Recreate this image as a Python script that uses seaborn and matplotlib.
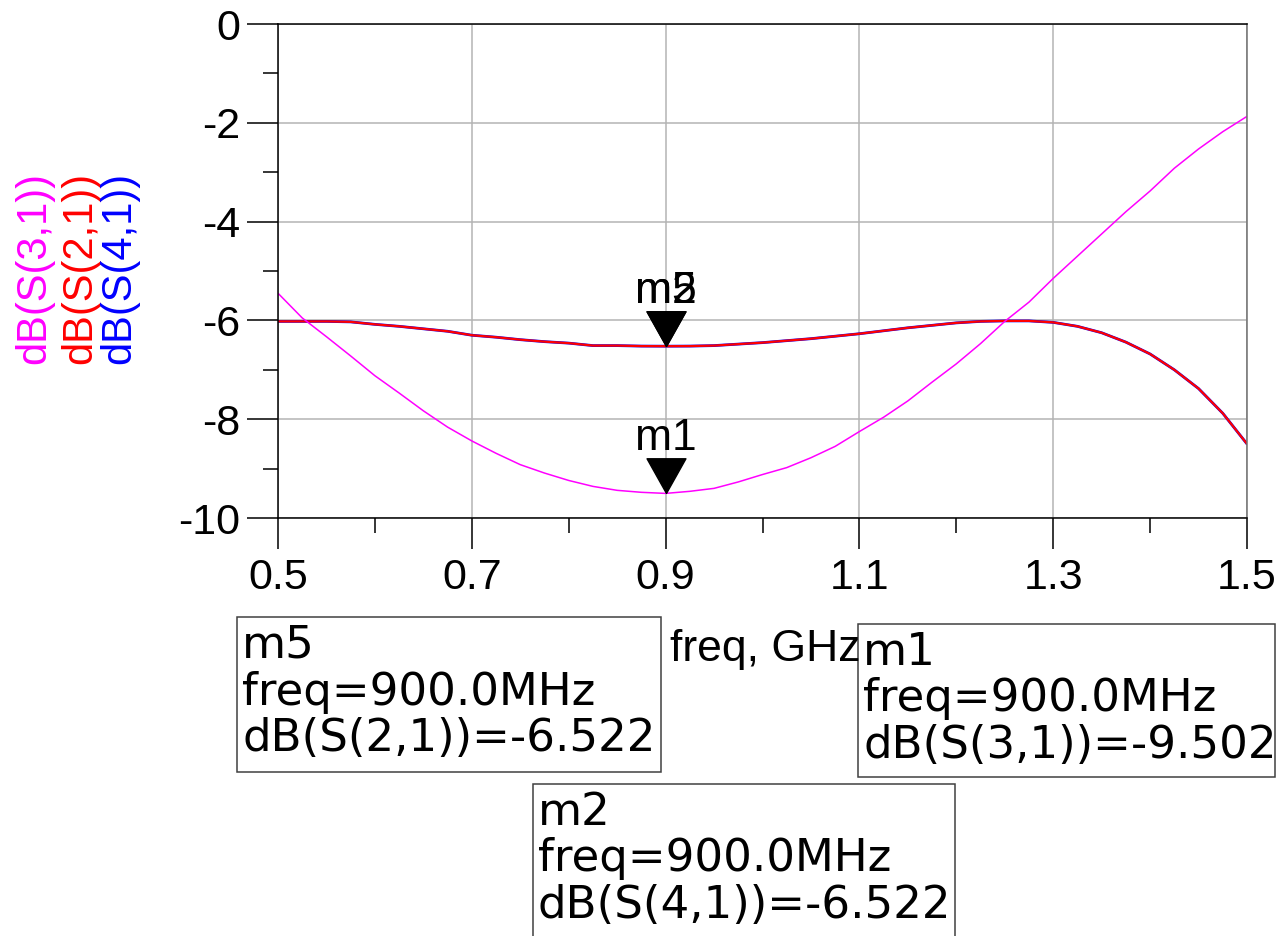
import numpy as np
import pandas as pd
import matplotlib
matplotlib.use("Agg")
import matplotlib.pyplot as plt
import seaborn as sns
from matplotlib.patches import Rectangle
from matplotlib.ticker import FixedLocator, FixedFormatter

# frequency sweep (GHz) and traces
freq_ghz = [0.500, 0.525, 0.550, 0.575, 0.600, 0.625, 0.650, 0.675, 0.700, 0.725,
            0.750, 0.775, 0.800, 0.825, 0.850, 0.875, 0.900, 0.925, 0.950, 0.975,
            1.000, 1.025, 1.050, 1.075, 1.100, 1.125, 1.150, 1.175, 1.200, 1.225,
            1.250, 1.275, 1.300, 1.325, 1.350, 1.375, 1.400, 1.425, 1.450, 1.475,
            1.500]
s31_db = [-5.45, -5.95, -6.33, -6.72, -7.12, -7.47, -7.83, -8.16, -8.44, -8.69,
          -8.92, -9.09, -9.24, -9.36, -9.44, -9.48, -9.502, -9.46, -9.40, -9.27,
          -9.12, -8.98, -8.78, -8.55, -8.25, -7.96, -7.63, -7.25, -6.88, -6.47,
          -6.02, -5.63, -5.15, -4.70, -4.25, -3.80, -3.38, -2.92, -2.53, -2.18,
          -1.87]
s21_db = [-6.02, -6.02, -6.02, -6.03, -6.08, -6.12, -6.17, -6.22, -6.30, -6.34,
          -6.39, -6.43, -6.46, -6.51, -6.51, -6.52, -6.522, -6.52, -6.51, -6.48,
          -6.45, -6.41, -6.37, -6.32, -6.27, -6.21, -6.15, -6.10, -6.05, -6.02,
          -6.01, -6.01, -6.04, -6.12, -6.25, -6.44, -6.68, -7.00, -7.38, -7.88,
          -8.50]
s41_db = [-6.02, -6.02, -6.02, -6.03, -6.08, -6.12, -6.17, -6.22, -6.30, -6.34,
          -6.39, -6.43, -6.46, -6.51, -6.51, -6.52, -6.522, -6.52, -6.51, -6.48,
          -6.45, -6.41, -6.37, -6.32, -6.27, -6.21, -6.15, -6.10, -6.05, -6.02,
          -6.01, -6.01, -6.04, -6.12, -6.25, -6.44, -6.68, -7.00, -7.38, -7.88,
          -8.50]

trace_names = ["dB(S(3,1))", "dB(S(2,1))", "dB(S(4,1))"]
trace_colors = ["#FF00FF", "#FF0000", "#0000FF"]

x_major = [0.5, 0.7, 0.9, 1.1, 1.3, 1.5]
x_minor = [0.6, 0.8, 1.0, 1.2, 1.4]
y_major = [0, -2, -4, -6, -8, -10]
y_minor = [-1, -3, -5, -7, -9]

markers = [("m5", 0.9, -6.522), ("m2", 0.9, -6.522), ("m1", 0.9, -9.502)]
marker_boxes = [
    ("m5", "900.0MHz", "dB(S(2,1))", "-6.522"),
    ("m1", "900.0MHz", "dB(S(3,1))", "-9.502"),
    ("m2", "900.0MHz", "dB(S(4,1))", "-6.522"),
]

sns.set_style("white")
plt.rcParams['font.family'] = ['Liberation Sans', 'DejaVu Sans']
plt.rcParams['axes.unicode_minus'] = False
plt.rcParams['text.color'] = 'black'
plt.rcParams['xtick.color'] = 'black'
plt.rcParams['ytick.color'] = 'black'
plt.rcParams['axes.labelcolor'] = 'black'

W, H = 1278, 936
fig = plt.figure(figsize=(W / 100, H / 100), dpi=100)
ax = fig.add_axes([278 / W, 1 - 518 / H, (1247 - 278) / W, (518 - 24) / H])

df = pd.DataFrame({
    "freq": freq_ghz * 3,
    "dB": s31_db + s21_db + s41_db,
    "trace": [trace_names[0]] * len(freq_ghz) + [trace_names[1]] * len(freq_ghz) + [trace_names[2]] * len(freq_ghz),
})

# blue first, red on top of it (they coincide), magenta last
sns.lineplot(data=df[df.trace == trace_names[2]], x="freq", y="dB", color=trace_colors[2], lw=2.0, ax=ax, legend=False)
sns.lineplot(data=df[df.trace == trace_names[1]], x="freq", y="dB", color=trace_colors[1], lw=1.6, ax=ax, legend=False)
sns.lineplot(data=df[df.trace == trace_names[0]], x="freq", y="dB", color=trace_colors[0], lw=1.1, ax=ax, legend=False)

ax.set_xlim(0.5, 1.5)
ax.set_ylim(-10, 0)
ax.xaxis.set_major_locator(FixedLocator(x_major))
ax.xaxis.set_major_formatter(FixedFormatter([f"{v:.1f}" for v in x_major]))
ax.xaxis.set_minor_locator(FixedLocator(x_minor))
ax.yaxis.set_major_locator(FixedLocator(y_major))
ax.yaxis.set_major_formatter(FixedFormatter([str(v) for v in y_major]))
ax.yaxis.set_minor_locator(FixedLocator(y_minor))

ax.grid(True, which="major", color="#b4b4b4", lw=1.1)
ax.tick_params(which="major", direction="out", length=22, width=1.1, color="black",
               labelsize=31, labelcolor="black", pad=5, left=True, bottom=True)
ax.tick_params(axis="x", which="major", pad=7)
ax.tick_params(which="minor", direction="out", length=11, width=1.1, color="black", left=True, bottom=True)
for side in ["left", "bottom", "top"]:
    ax.spines[side].set_color("black")
    ax.spines[side].set_linewidth(1.1)
ax.spines["right"].set_color("#707070")
ax.spines["right"].set_linewidth(1.1)
ax.set_xlabel("")
ax.set_ylabel("")

# marker triangles with the tip on the data point
tri = [(0, 0), (-0.56, 1), (0.56, 1), (0, 0)]
for name, fx, fy in markers:
    ax.plot([fx], [fy], marker=tri, ms=50, color="black", mec="black", ls="none", zorder=5, clip_on=False)
    ax.annotate(name, (fx, fy), xytext=(0, 31), textcoords="offset points",
                ha="center", va="baseline", fontsize=32, color="black", zorder=6)

# stacked coloured y labels
for name, color, cx in zip(trace_names, trace_colors, [34, 80, 119]):
    fig.text(cx / W, 1 - 268 / H, name, rotation=90, ha="center", va="center",
             fontsize=30, color=color)

fig.text(670 / W, 1 - 661 / H, "freq, GHz", ha="left", va="baseline", fontsize=32, color="black")

# marker readout boxes (x0, y0, x1, y1 in pixels from top-left)
box_geom = [(237, 617, 661, 772), (858, 624, 1275, 777), (533, 784, 955, 940)]
for (label, fval, tname, dval), (x0, y0, x1, y1) in zip(marker_boxes, box_geom):
    fig.patches.append(Rectangle((x0 / W, 1 - y1 / H), (x1 - x0) / W, (y1 - y0) / H,
                                 transform=fig.transFigure, fill=False, ec="#404040", lw=1.1))
    lines = [label, "freq=" + fval, tname + "=" + dval]
    for i, line in enumerate(lines):
        fig.text((x0 + 5) / W, 1 - (y0 + 41 + 46.5 * i) / H, line, ha="left", va="baseline",
                 fontsize=32.5, family=["DejaVu Sans"], color="black")

fig.savefig("out.png", dpi=100)
